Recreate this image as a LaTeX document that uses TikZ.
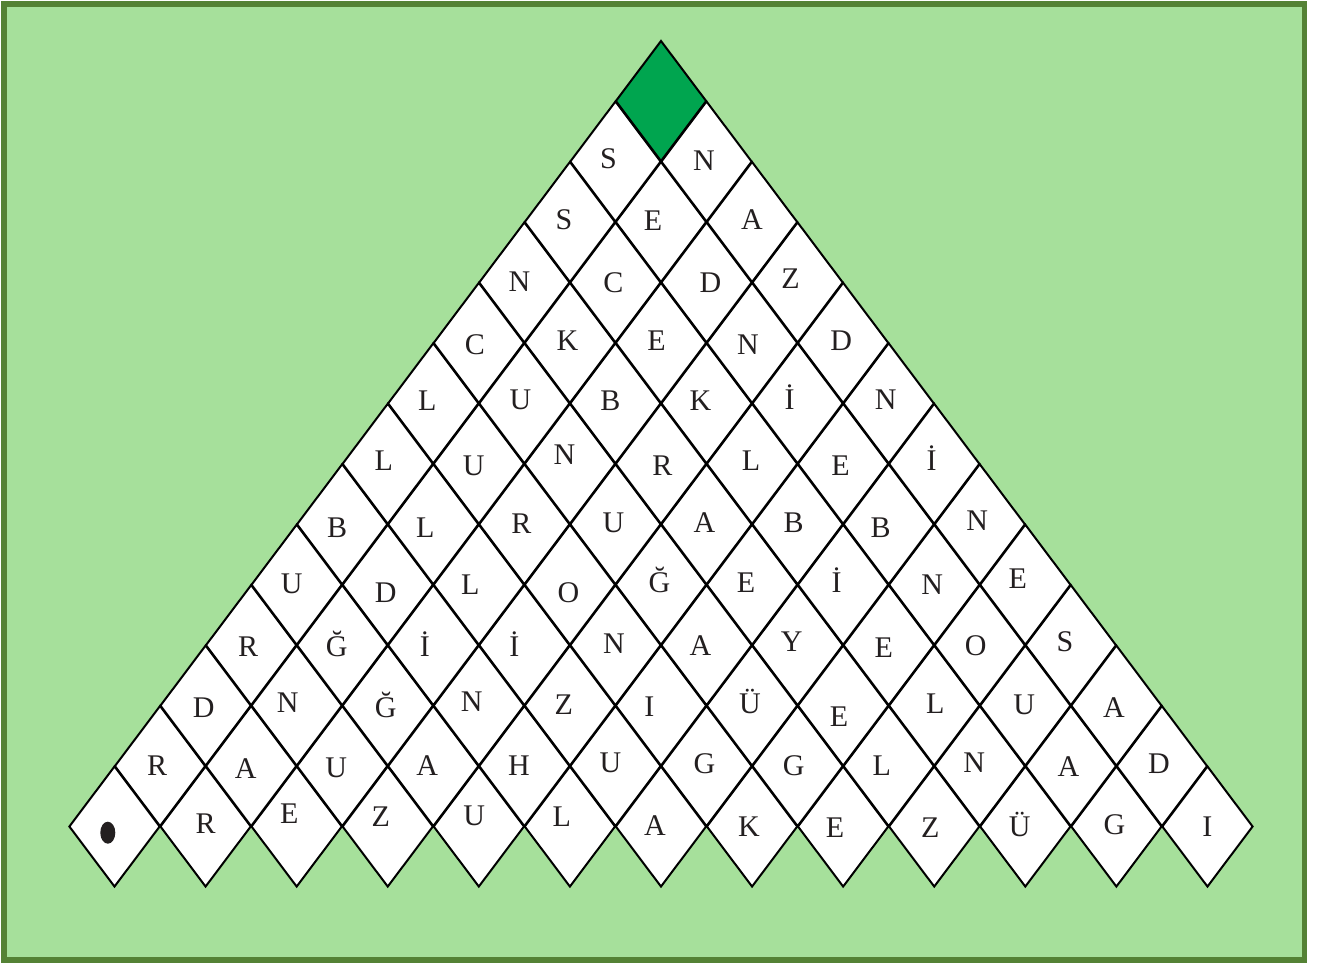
\documentclass[tikz,border=0pt]{standalone}
\usepackage{fontspec}
\setmainfont{Liberation Serif}
\usepackage{tikz}
\usetikzlibrary{shapes.geometric,calc}
\definecolor{bggreen}{HTML}{A6E09B}
\definecolor{framegreen}{HTML}{548235}
\definecolor{apexgreen}{HTML}{00A54F}
\definecolor{inkgray}{HTML}{231F20}

\begin{document}
\begin{tikzpicture}[
    x=1pt, y=-1pt,
    cell/.style={diamond, draw=black, line width=2pt, fill=white, inner sep=0pt,
                 minimum width=91.08pt, minimum height=120.9pt},
    letter/.style={anchor=base, inner sep=0pt, text=inkgray,
                   font=\fontsize{30}{30}\selectfont},
    startdot/.style={ellipse, fill=inkgray, inner sep=0pt,
                     minimum width=15pt, minimum height=22pt}
]

% Page and frame
\useasboundingbox (0,0) rectangle (1327,965);
\fill[white] (0,0) rectangle (1327,965);
\draw[line width=5.5pt, draw=framegreen, fill=bggreen] (4,4) rectangle (1304.5,960);

% Diamond cells, row 0 at the bottom
\foreach \k in {0,...,11} {
  \pgfmathtruncatemacro\last{12-\k}
  \foreach \i in {0,...,\last} {
    \node[cell] (c-\k-\i) at ({114.5+45.54*\k+91.08*\i}, {826.5-60.45*\k}) {};
  }
}

% Apex cell
\node[cell, fill=apexgreen] (apex) at (661,101) {};

% Start mark
\node[startdot] (start) at ([shift={(-6.7,6.2)}]c-0-0.center) {};

% Letters, row by row (letter/dx/dy inside its cell)
\foreach \t/\dx/\dy [count=\i from 1] in {R/0/-3, E/-7.5/-13, Z/-7/-10, U/-4.7/-10.7,
    L/-8/-10.5, A/-6/-1, K/-3/0, E/-8/1, Z/-4/0.5, Ü/-5.5/0, G/-2/-2.5, I/0/0}
  \node[letter] (l-0-\i) at ([shift={(\dx,\dy+10)}]c-0-\i.center) {\t};

\foreach \t/\dx/\dy [count=\i from 0] in {R/-3/-1, A/-5.5/2, U/-6/1, A/-6/-1, H/-5.5/-1,
    U/-5/-4, G/-2/-3, G/-4/-1, L/-7/-1, N/-5.5/-4, A/-2.5/0, D/-3/-3}
  \node[letter] (l-1-\i) at ([shift={(\dx,\dy+10)}]c-1-\i.center) {\t};

\foreach \t/\dx/\dy [count=\i from 0] in {D/-2/1.5, N/-9/-3.5, Ğ/-2/2, N/-7/-4, Z/-6/-1,
    I/-11.6/1, Ü/-2/-2, E/-4/11, L/1/-2.5, U/-1/-1.5, A/-2.5/2}
  \node[letter] (l-2-\i) at ([shift={(\dx,\dy+10)}]c-2-\i.center) {\t};

\foreach \t/\dx/\dy [count=\i from 0] in {R/-3/1.5, Ğ/-5.5/1.5, İ/-8.5/1.5, İ/-10/1,
    N/-1.5/-1.5, A/-6/0, Y/-6/-3.5, E/-5/2, O/-4/0, S/-6/-3.5}
  \node[letter] (l-3-\i) at ([shift={(\dx,\dy+10)}]c-3-\i.center) {\t};

\foreach \t/\dx/\dy [count=\i from 0] in {U/-5/-1.5, D/-2/8, L/-8.5/0, O/-1.5/8,
    Ğ/-1.5/-2.5, E/-6/-2.5, İ/-6.5/-2.5, N/-2/0, E/-7.5/-6.5}
  \node[letter] (l-4-\i) at ([shift={(\dx,\dy+10)}]c-4-\i.center) {\t};

\foreach \t/\dx/\dy [count=\i from 0] in {B/-5/3, L/-8/3.5, R/-3/-1, U/-2/-2, A/-2/-2,
    B/-4/-1.5, B/-8/3, N/-2.5/-3.5}
  \node[letter] (l-5-\i) at ([shift={(\dx,\dy+10)}]c-5-\i.center) {\t};

\foreach \t/\dx/\dy [count=\i from 0] in {L/-4/-3, U/-5/1.5, N/-5.5/-9.5, R/1.5/1.5,
    L/-1/-3, E/-2.5/1.5, İ/-2.5/-3}
  \node[letter] (l-6-\i) at ([shift={(\dx,\dy+10)}]c-6-\i.center) {\t};

\foreach \t/\dx/\dy [count=\i from 0] in {L/-6/-3, U/-4/-4, B/-5/-3, K/-6/-3, İ/-8/-4,
    N/-3/-3.5}
  \node[letter] (l-7-\i) at ([shift={(\dx,\dy+10)}]c-7-\i.center) {\t};

\foreach \t/\dx/\dy [count=\i from 0] in {C/-4/1.5, K/-2.5/-2, E/-4.5/-2, N/-4/2, D/-2/-2}
  \node[letter] (l-8-\i) at ([shift={(\dx,\dy+10)}]c-8-\i.center) {\t};

\foreach \t/\dx/\dy [count=\i from 0] in {N/-5/-1, C/-2/0.5, D/4/0.5, Z/-7/-4}
  \node[letter] (l-9-\i) at ([shift={(\dx,\dy+10)}]c-9-\i.center) {\t};

\foreach \t/\dx/\dy [count=\i from 0] in {S/-6/-2, E/-8/-1.5, A/0/-2}
  \node[letter] (l-10-\i) at ([shift={(\dx,\dy+10)}]c-10-\i.center) {\t};

\foreach \t/\dx/\dy [count=\i from 0] in {S/-7/-3, N/-2.5/-1}
  \node[letter] (l-11-\i) at ([shift={(\dx,\dy+10)}]c-11-\i.center) {\t};

\end{tikzpicture}
\end{document}
